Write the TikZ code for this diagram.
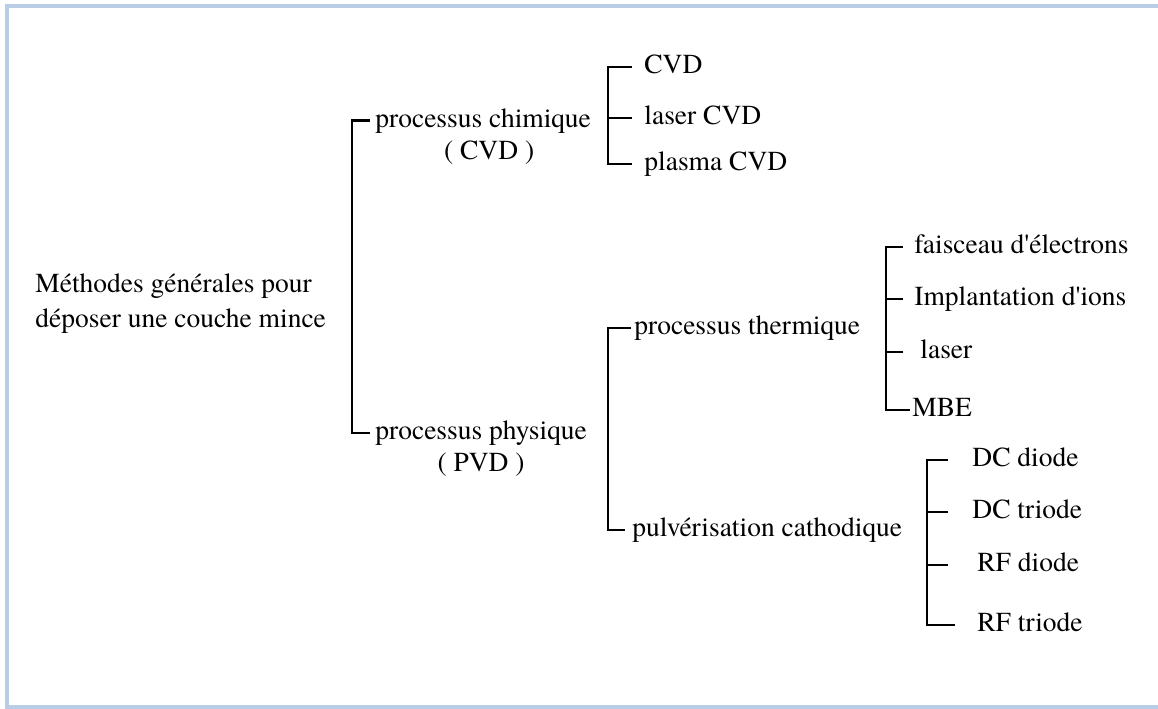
\documentclass[tikz,border=0pt]{standalone}
\usepackage{fontspec}
\IfFontExistsTF{texgyretermes-regular.otf}
  {\setmainfont{texgyretermes}[Extension=.otf, UprightFont=*-regular, BoldFont=*-bold, ItalicFont=*-italic, BoldItalicFont=*-bolditalic]}
  {\setmainfont{Liberation Serif}}
\usetikzlibrary{positioning}
\definecolor{framebl}{RGB}{185,205,229}
\tikzstyle{branch} = [anchor=west, inner ysep=0pt, text height=0.69em, text depth=0pt]
\tikzstyle{brk} = [draw=black, line width=1.3pt]
\tikzstyle{frame} = [draw=framebl, line width=2pt]

\begin{document}
\begin{tikzpicture}[x=0.5pt, y=-0.5pt, node distance=8.5pt, font=\fontsize{13.75}{17.5}\selectfont]
\useasboundingbox (0,0) rectangle (1158,708);
\clip (0,0) rectangle (1158,708);
\draw[frame] (7,6) rectangle (1180,707);

% root
\node(root)[anchor=north west, inner sep=0pt, align=left] at (35,273) {Méthodes générales pour\\déposer une couche mince};

% first level
\node(chim)[branch, inner xsep=2.5pt] at (370,120.5) {processus chimique};
\node(chimcvd)[branch, below=of chim, xshift=3pt] {( CVD )};
\node(phys)[branch, inner xsep=2.5pt] at (370,433) {processus physique};
\node(physpvd)[branch, below=of phys] {( PVD )};

% chemical
\node(cvd)[branch, inner xsep=6pt] at (632,67) {CVD};
\node(lcvd)[branch, inner xsep=6pt] at (632,118) {laser CVD};
\node(pcvd)[branch, inner xsep=6pt] at (632,164) {plasma CVD};

% physical
\node(therm)[branch, inner xsep=1.5pt] at (631,328) {processus thermique};
\node(pulv)[branch, inner xsep=3.5pt] at (625,530) {pulvérisation cathodique};

% thermal
\node(fais)[branch, inner xsep=5.5pt] at (903,247) {faisceau d\textquotesingle{}électrons};
\node(impl)[branch, inner xsep=5.5pt] at (903,299) {Implantation d\textquotesingle{}ions};
\node(las)[branch, inner xsep=8.5pt] at (903,352) {laser};
\node(mbe)[branch, inner xsep=1pt] at (910,410) {MBE};

% sputtering
\node(dcd)[branch, inner xsep=12pt] at (948,460) {DC diode};
\node(dct)[branch, inner xsep=12pt] at (948,512) {DC triode};
\node(rfd)[branch, inner xsep=14.5pt] at (948,565) {RF diode};
\node(rft)[branch, inner xsep=11pt] at (955,625) {RF triode};

\draw[brk] (chim.west) -- ++(-18,0) |- (phys.west);
\draw[brk] (cvd.west) -- ++(-24,0) |- (pcvd.west);
\draw[brk] (lcvd.west) -- ++(-24,0);
\draw[brk] (therm.west) -- ++(-23,0) |- (pulv.west);
\draw[brk] (fais.west) -- ++(-17,0) |- (mbe.west);
\draw[brk] (impl.west) -- ++(-17,0);
\draw[brk] (las.west) -- ++(-17,0);
\draw[brk] (dcd.west) -- ++(-21,0) |- (rft.west);
\draw[brk] (dct.west) -- ++(-21,0);
\draw[brk] (rfd.west) -- ++(-21,0);
\end{tikzpicture}
\end{document}
